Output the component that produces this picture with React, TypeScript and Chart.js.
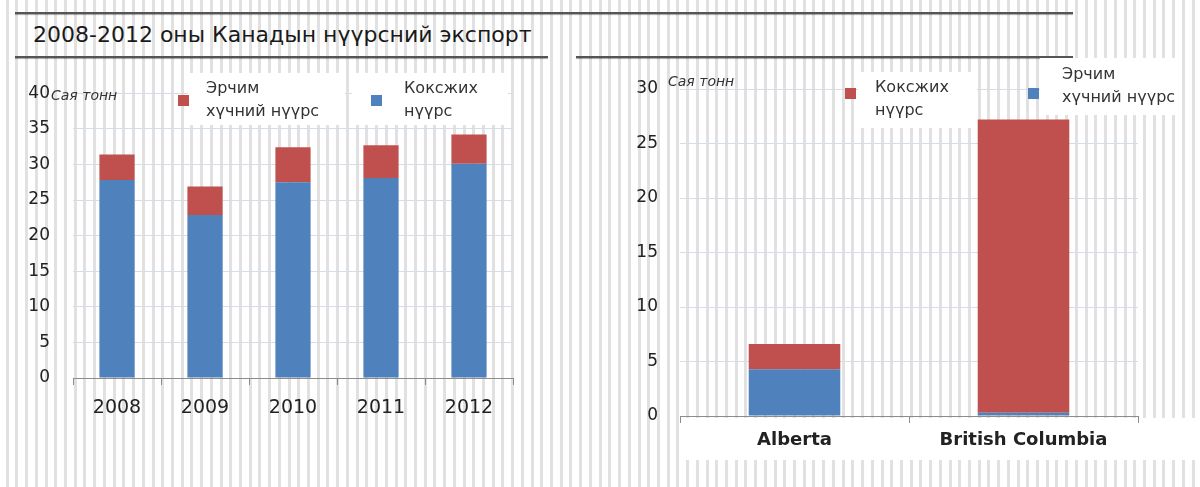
import React, { useEffect, useRef } from 'react';
import { Chart, registerables } from 'chart.js';

Chart.register(...registerables);

// ---------- text ----------
const TITLE = '2008-2012 оны Канадын нүүрсний экспорт';
const UNIT = 'Сая тонн';
const thermalName = ['Эрчим', 'хүчний нүүрс'];
const cokingName = ['Коксжих', 'нүүрс'];

// ---------- left chart data (сая тонн) ----------
const years = ['2008', '2009', '2010', '2011', '2012'];
const leftCoking = [27.8, 22.9, 27.5, 28.1, 30.1];
const leftThermal = [3.6, 4.0, 4.9, 4.6, 4.1];
const leftYMax = 40;

// ---------- right chart data (сая тонн) ----------
const provinces = ['Alberta', 'British Columbia'];
const rightThermal = [4.3, 0.3];
const rightCoking = [2.3, 26.9];
const rightYMax = 30;

const yStep = 5;

// ---------- styles ----------
const BLUE = '#4f81bd';
const RED = '#c0504d';
const GRID = '#d5dde8';
const AXIS = '#8c8c8c';
const TEXT = '#222222';
const SANS = '"DejaVu Sans", sans-serif';

type LegendSpec = { ds: number; lines: string[]; box: number[]; sq: number[]; tx: number; ty: number[] };
type DecorSpec = { bands: number[][]; legends: LegendSpec[]; unit: number[] };

function decor(spec: DecorSpec) {
  return {
    id: 'decor',
    beforeDraw(chart: any) {
      const ctx = chart.ctx;
      ctx.save();
      ctx.fillStyle = '#ffffff';
      spec.bands.forEach(([x, y, w, h]) => ctx.fillRect(x, y, w, h));
      ctx.restore();
    },
    beforeDatasetsDraw(chart: any) {
      const ctx = chart.ctx;
      ctx.save();
      spec.legends.forEach((l) => {
        ctx.fillStyle = '#ffffff';
        ctx.fillRect(l.box[0], l.box[1], l.box[2], l.box[3]);
        const ds = chart.data.datasets[l.ds];
        ctx.fillStyle = ds.backgroundColor;
        ctx.fillRect(l.sq[0], l.sq[1], 11, 11);
        ctx.fillStyle = '#333333';
        ctx.font = `16px ${SANS}`;
        ctx.textBaseline = 'middle';
        ctx.textAlign = 'left';
        l.lines.forEach((t, i) => ctx.fillText(t, l.tx, l.ty[i]));
      });
      ctx.font = `italic 14px ${SANS}`;
      ctx.fillStyle = '#333333';
      ctx.textBaseline = 'middle';
      ctx.textAlign = 'left';
      ctx.fillText(UNIT, spec.unit[0], spec.unit[1]);
      ctx.restore();
    },
  };
}

type PanelOpts = {
  labels: string[];
  blue: number[];
  red: number[];
  blueLabel: string;
  redLabel: string;
  max: number;
  padding: { left: number; right: number; top: number; bottom: number };
  yWidth: number;
  xHeight: number;
  yPad: number;
  xPad: number;
  xFont: any;
  decor: DecorSpec;
};

function makeConfig(o: PanelOpts): any {
  return {
    type: 'bar',
    data: {
      labels: o.labels,
      datasets: [
        { label: o.blueLabel, data: o.blue, backgroundColor: BLUE, barPercentage: 0.4, categoryPercentage: 1 },
        { label: o.redLabel, data: o.red, backgroundColor: RED, barPercentage: 0.4, categoryPercentage: 1 },
      ],
    },
    options: {
      responsive: false,
      animation: false,
      devicePixelRatio: 1,
      layout: { padding: o.padding },
      plugins: { legend: { display: false }, tooltip: { enabled: false }, title: { display: false } },
      scales: {
        x: {
          stacked: true,
          grid: { display: true, drawOnChartArea: false, drawTicks: true, tickLength: 7, color: AXIS, offset: true },
          border: { display: true, color: AXIS, width: 1 },
          ticks: { color: TEXT, font: o.xFont, padding: o.xPad, maxRotation: 0, autoSkip: false },
          afterFit: (s: any) => {
            s.height = o.xHeight;
          },
        },
        y: {
          stacked: true,
          min: 0,
          max: o.max,
          ticks: { stepSize: yStep, color: TEXT, font: { family: SANS, size: 17 }, padding: o.yPad },
          grid: { color: GRID, drawTicks: false, lineWidth: 1 },
          border: { display: false },
          afterFit: (s: any) => {
            s.width = o.yWidth;
          },
        },
      },
    },
    plugins: [decor(o.decor)],
  };
}

function Panel({ left, top, width, height, opts }: { left: number; top: number; width: number; height: number; opts: PanelOpts }) {
  const ref = useRef<HTMLCanvasElement>(null);
  useEffect(() => {
    const chart = new Chart(ref.current as HTMLCanvasElement, makeConfig(opts));
    return () => chart.destroy();
  }, []);
  return (
    <canvas
      ref={ref}
      width={width}
      height={height}
      style={{ position: 'absolute', left, top, width, height }}
    />
  );
}

const leftOpts: PanelOpts = {
  labels: years,
  blue: leftCoking,
  red: leftThermal,
  blueLabel: cokingName.join(' '),
  redLabel: thermalName.join(' '),
  max: leftYMax,
  padding: { left: 0, right: 47, top: 28, bottom: 49 },
  yWidth: 73,
  xHeight: 60,
  yPad: 23,
  xPad: 12,
  xFont: { family: SANS, size: 19 },
  decor: {
    bands: [],
    legends: [
      { ds: 1, lines: thermalName, box: [188, 13, 157, 52], sq: [178, 35], tx: 206, ty: [29, 52] },
      { ds: 0, lines: cokingName, box: [352, 13, 156, 52], sq: [371, 35], tx: 404, ty: [29, 52] },
    ],
    unit: [51, 36],
  },
};

const rightOpts: PanelOpts = {
  labels: provinces,
  blue: rightThermal,
  red: rightCoking,
  blueLabel: thermalName.join(' '),
  redLabel: cokingName.join(' '),
  max: rightYMax,
  padding: { left: 0, right: 62, top: 39, bottom: 21 },
  yWidth: 100,
  xHeight: 50,
  yPad: 22,
  xPad: 7,
  xFont: { family: SANS, size: 18, weight: 'bold' },
  decor: {
    bands: [[105, 368, 515, 42]],
    legends: [
      { ds: 1, lines: cokingName, box: [278, 22, 119, 56], sq: [265, 38], tx: 295, ty: [38, 61] },
      { ds: 0, lines: thermalName, box: [460, 8, 135, 57], sq: [448, 38], tx: 482, ty: [25, 48] },
    ],
    unit: [88, 32],
  },
};

const stripes =
  'repeating-linear-gradient(90deg, #ffffff 0px, #ffffff 5.7px, #e1e1e1 5.7px, #e1e1e1 8.7px, #ffffff 8.7px, #ffffff 9.72px)';

const rule = (left: number, top: number, width: number): React.CSSProperties => ({
  position: 'absolute',
  left,
  top,
  width,
  height: 2,
  background: '#555555',
  boxShadow: '0 1px 1px rgba(0,0,0,0.35)',
});

export default function App() {
  return (
    <div
      style={{
        position: 'fixed',
        left: 0,
        top: 0,
        width: 1200,
        height: 487,
        overflow: 'hidden',
        background: stripes,
      }}
    >
      <div style={rule(15, 12, 1058)} />
      <div style={rule(15, 56, 533)} />
      <div style={rule(576, 56, 497)} />
      <div
        style={{
          position: 'absolute',
          left: 33,
          top: 21,
          fontFamily: SANS,
          fontSize: 22,
          lineHeight: '28px',
          color: '#1a1a1a',
          whiteSpace: 'nowrap',
        }}
      >
        {TITLE}
      </div>
      <Panel left={0} top={60} width={560} height={427} opts={leftOpts} />
      <Panel left={580} top={50} width={620} height={437} opts={rightOpts} />
    </div>
  );
}
